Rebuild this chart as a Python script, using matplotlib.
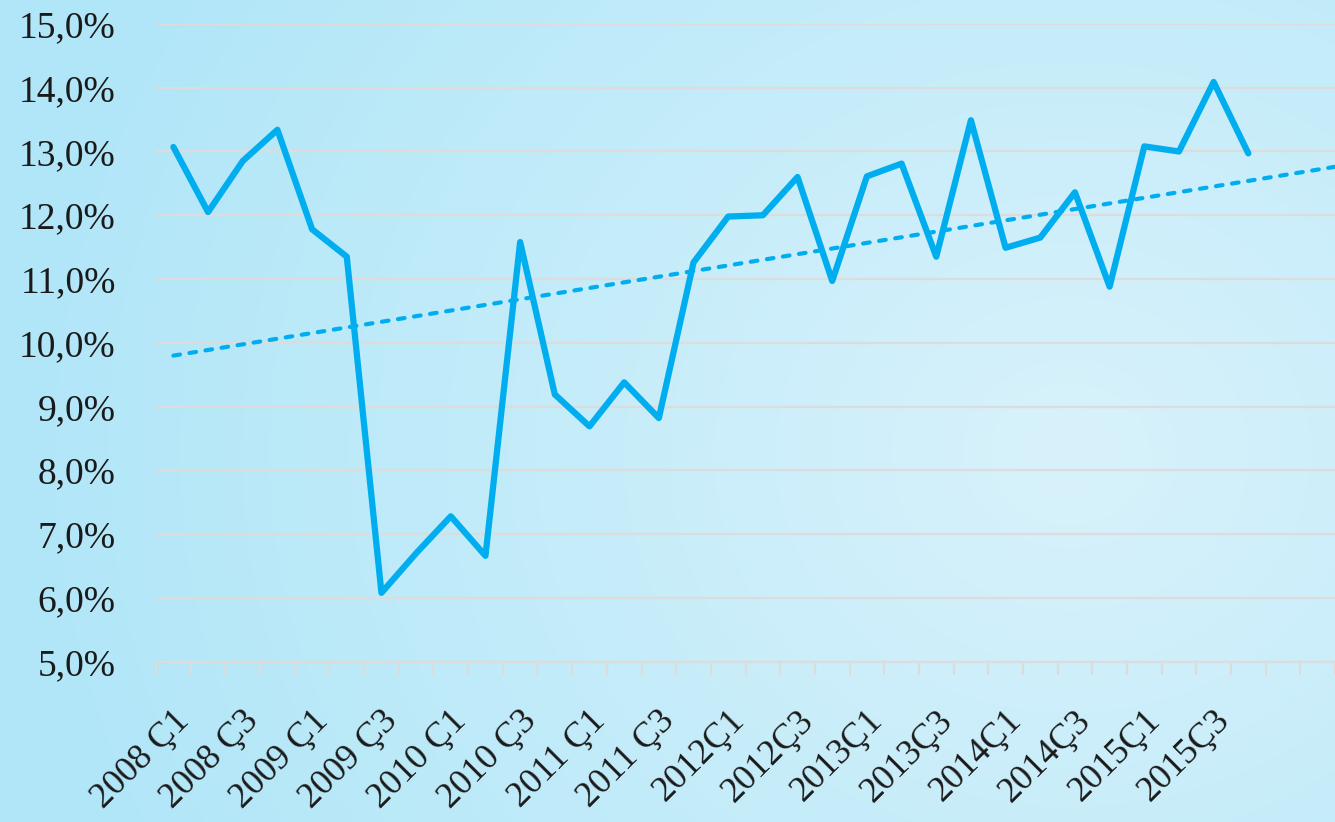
import numpy as np
import matplotlib
matplotlib.use('Agg')
import matplotlib.pyplot as plt

# quarterly values, 2008 Q1 .. 2015 Q4 (percent)
values = [13.07, 12.05, 12.85, 13.34, 11.78, 11.35, 6.08, 6.70,
          7.28, 6.66, 11.58, 9.19, 8.69, 9.38, 8.82, 11.26,
          11.98, 12.00, 12.60, 10.97, 12.61, 12.81, 11.35, 13.49,
          11.49, 11.65, 12.36, 10.88, 13.08, 13.00, 14.09, 12.97]

tick_labels = ['2008 Ç1', '2008 Ç3', '2009 Ç1', '2009 Ç3', '2010 Ç1', '2010 Ç3',
               '2011 Ç1', '2011 Ç3', '2012Ç1', '2012Ç3', '2013Ç1', '2013Ç3',
               '2014Ç1', '2014Ç3', '2015Ç1', '2015Ç3']

y_ticks = [5, 6, 7, 8, 9, 10, 11, 12, 13, 14, 15]

line_color = '#00aeef'
grid_color = '#dcdcdc'
font = ['Liberation Serif', 'DejaVu Serif']

fig = plt.figure(figsize=(13.35, 8.22), dpi=100)

# background gradient
bg = fig.add_axes([0, 0, 1, 1], zorder=-10)
h, w = 200, 325
yy, xx = np.mgrid[0:h, 0:w]
d = np.sqrt(((xx / w) - 0.8) ** 2 + (((yy / h) - 0.55) * 0.7) ** 2)
t = np.clip(d / 0.8, 0, 1)[..., None]
light = np.array([216, 242, 251]) / 255
dark = np.array([176, 230, 248]) / 255
bg.imshow(light * (1 - t) + dark * t, aspect='auto', interpolation='bilinear')
bg.axis('off')

ax = fig.add_axes([0.1169, 0.195, 0.8831, 0.7759])
ax.patch.set_alpha(0)

x = np.arange(len(values))
ax.plot(x, values, color=line_color, lw=4.5, solid_joinstyle='round',
        solid_capstyle='round', zorder=3)

# linear trend, extended past the last quarter
coef = np.polyfit(x, values, 1)
xt = np.array([0, len(values) + 1.5])
ax.plot(xt, np.polyval(coef, xt), color=line_color, lw=3,
        linestyle=(0, (1.6, 2.3)), dash_capstyle='round', zorder=2)

ax.set_xlim(-0.5, 33.23)
ax.set_ylim(5, 15)

ax.set_yticks(y_ticks)
ax.set_yticklabels(['%d,0%%' % v for v in y_ticks], fontsize=27,
                   family=font, color='#1a1a1a')
ax.tick_params(axis='y', length=0, pad=29)
ax.yaxis.grid(True, color=grid_color, lw=1.6)
ax.set_axisbelow(True)

# category boundary tick marks
ax.set_xticks(np.arange(-0.5, 34, 1))
ax.set_xticklabels([])
ax.tick_params(axis='x', direction='out', length=9, width=1.6, color=grid_color)

for i, lab in enumerate(tick_labels):
    ax.annotate(lab, xy=(2 * i, 0), xycoords=('data', 'axes fraction'),
                xytext=(8, -39), textcoords='offset points',
                rotation=45, rotation_mode='anchor', ha='right', va='center',
                fontsize=26, family=font, color='#1a1a1a', annotation_clip=False)

for s in ['top', 'right', 'left']:
    ax.spines[s].set_visible(False)
ax.spines['bottom'].set_color(grid_color)
ax.spines['bottom'].set_linewidth(1.6)

fig.savefig('out.png', dpi=100)
